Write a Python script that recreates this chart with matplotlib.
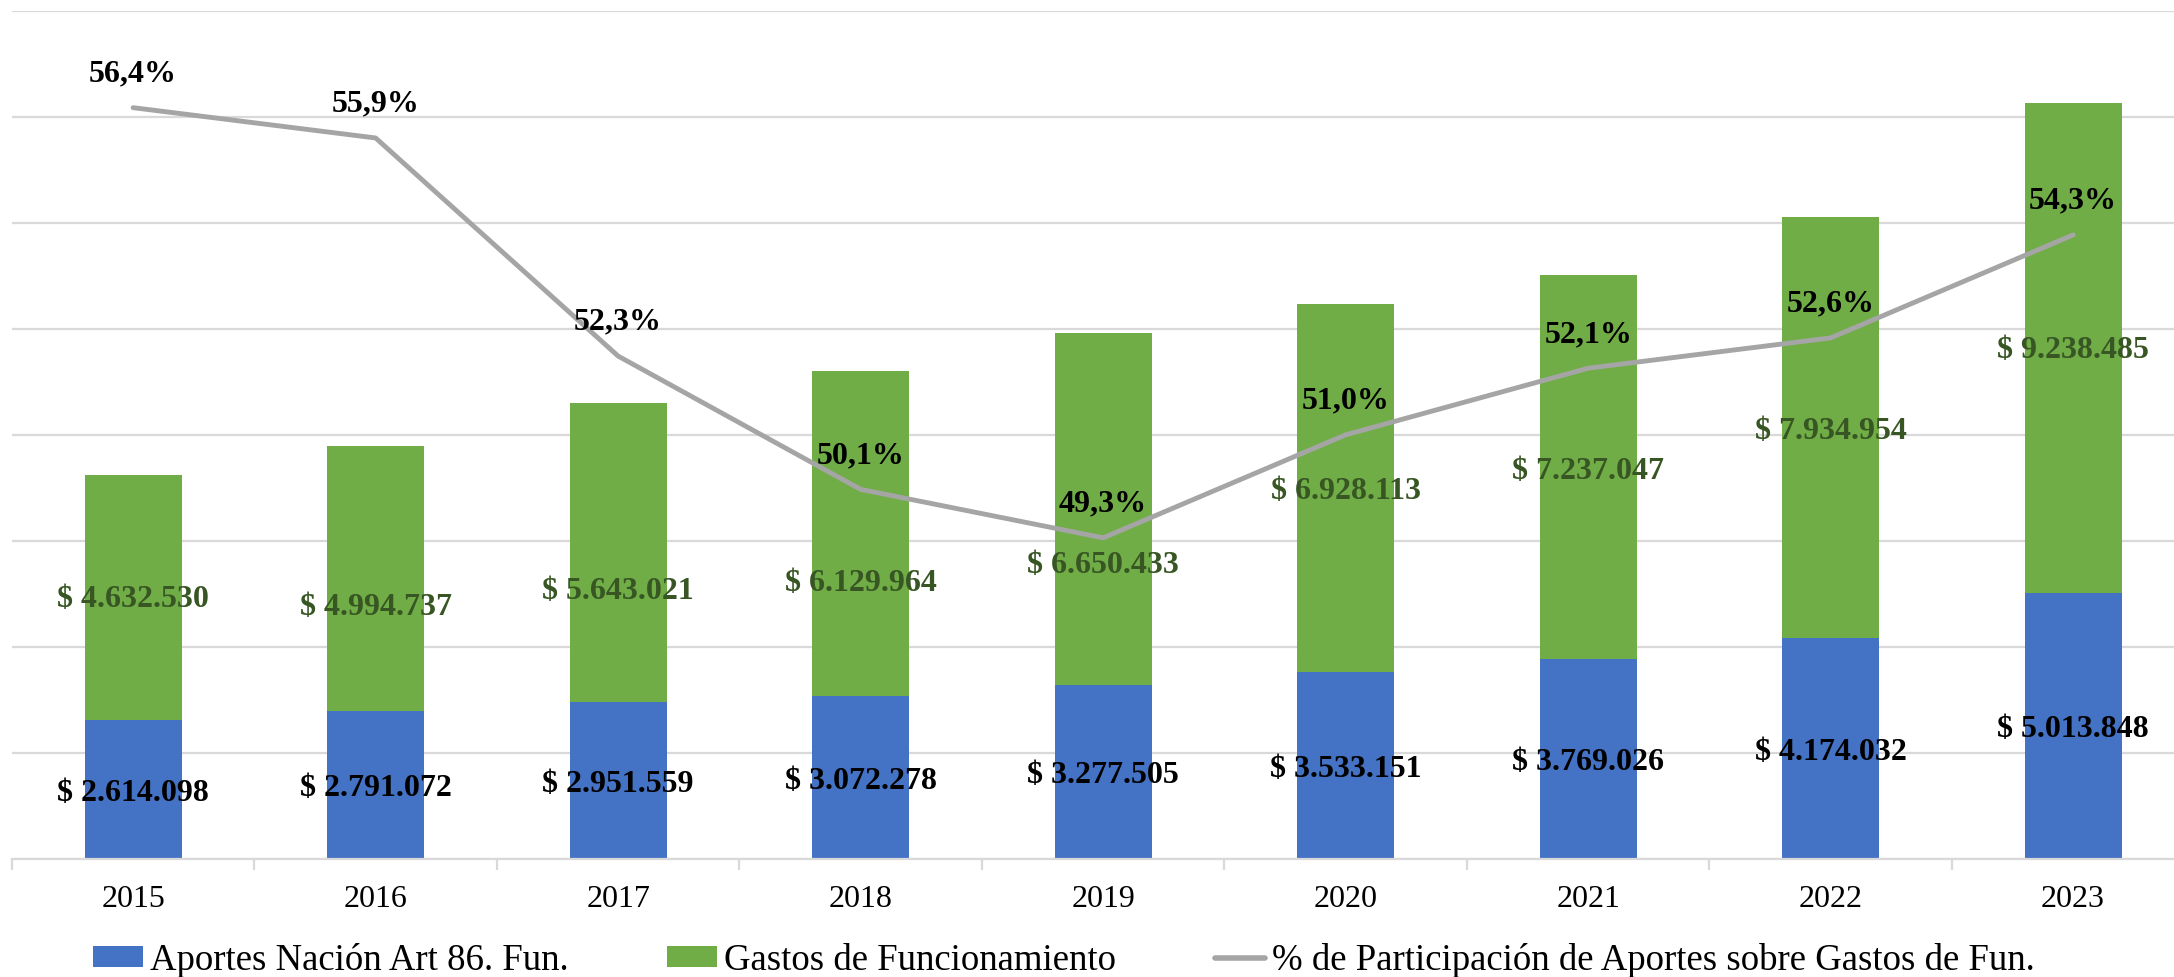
import matplotlib
matplotlib.use("Agg")
import matplotlib.pyplot as plt
from matplotlib.patches import Patch
from matplotlib.lines import Line2D
import numpy as np

plt.rcParams["font.family"] = ["Liberation Serif", "DejaVu Serif"]

anios = ["2015", "2016", "2017", "2018", "2019", "2020", "2021", "2022", "2023"]
aportes = [2614098, 2791072, 2951559, 3072278, 3277505, 3533151, 3769026, 4174032, 5013848]
gastos = [4632530, 4994737, 5643021, 6129964, 6650433, 6928113, 7237047, 7934954, 9238485]
participacion = [56.4, 55.9, 52.3, 50.1, 49.3, 51.0, 52.1, 52.6, 54.3]

# corrimiento manual (en puntos, hacia abajo) de las etiquetas verdes
corrimiento_verde = [1, 20, 27, 35, 40, 2, 2, 2, 1]

AZUL = "#4472C4"
VERDE = "#70AD47"
GRIS = "#A5A5A5"
VERDE_OSC = "#375623"


def pesos(v):
    return "$ " + f"{v:,}".replace(",", ".")


def porcentaje(v):
    return f"{v:.1f}%".replace(".", ",")


fig = plt.figure(figsize=(21.74, 9.78), dpi=100)
ax = fig.add_axes([0.00547, 0.1207, 1.0039, 0.8673])
x = np.arange(len(anios))

ax.bar(x, aportes, width=0.4, color=AZUL, zorder=2)
ax.bar(x, gastos, width=0.4, bottom=aportes, color=VERDE, zorder=2)

for i in range(len(anios)):
    ax.annotate(pesos(aportes[i]), (x[i], aportes[i] / 2), xytext=(0, -2),
                textcoords="offset points", ha="center", va="center",
                fontsize=23, fontweight="bold", color="black", zorder=5)
    ax.annotate(pesos(gastos[i]), (x[i], aportes[i] + gastos[i] / 2),
                xytext=(0, -corrimiento_verde[i]), textcoords="offset points",
                ha="center", va="center", fontsize=23, fontweight="bold",
                color=VERDE_OSC, zorder=5)

ax.set_ylim(0, 16000000)
ax.set_xlim(-0.5, len(anios) - 0.5)
ax.set_yticks(np.arange(0, 16000001, 2000000))
ax.set_yticklabels([])
ax.tick_params(axis="y", length=0)
ax.grid(axis="y", color="#D9D9D9", lw=1.6, zorder=0)
ax.set_axisbelow(True)
for s in ["left", "right", "top"]:
    ax.spines[s].set_visible(False)
ax.spines["bottom"].set_color("#D9D9D9")
ax.spines["bottom"].set_linewidth(1.6)

ax.set_xticks(x)
ax.set_xticklabels(anios, fontsize=23)
ax.tick_params(axis="x", which="major", length=0, pad=18)
ax.set_xticks(np.arange(-0.5, len(anios), 1), minor=True)
ax.tick_params(axis="x", which="minor", length=8, width=1.6, color="#D9D9D9")

ax2 = ax.twinx()
ax2.plot(x, participacion, color=GRIS, lw=3.5, solid_capstyle="round", zorder=3)
ax2.set_ylim(44, 58)
ax2.axis("off")
for i in range(len(anios)):
    ax2.annotate(porcentaje(participacion[i]), (x[i], participacion[i]),
                 xytext=(0, 25), textcoords="offset points", ha="center",
                 va="center", fontsize=23, fontweight="bold", color="black")

handles = [
    Patch(facecolor=AZUL, edgecolor="none"),
    Patch(facecolor=VERDE, edgecolor="none"),
    Line2D([0], [0], color=GRIS, lw=4, solid_capstyle="round"),
]
labels = ["Aportes Nación Art 86. Fun.", "Gastos de Funcionamiento",
          "% de Participación de Aportes sobre Gastos de Fun."]
fig.legend(handles, labels, loc="center", bbox_to_anchor=(0.4894, 0.0174), ncol=3,
           frameon=False, fontsize=26.5, handlelength=1.36, handleheight=0.52,
           handletextpad=0.19, columnspacing=2.68, borderpad=0)

fig.savefig("out.png", dpi=100)
